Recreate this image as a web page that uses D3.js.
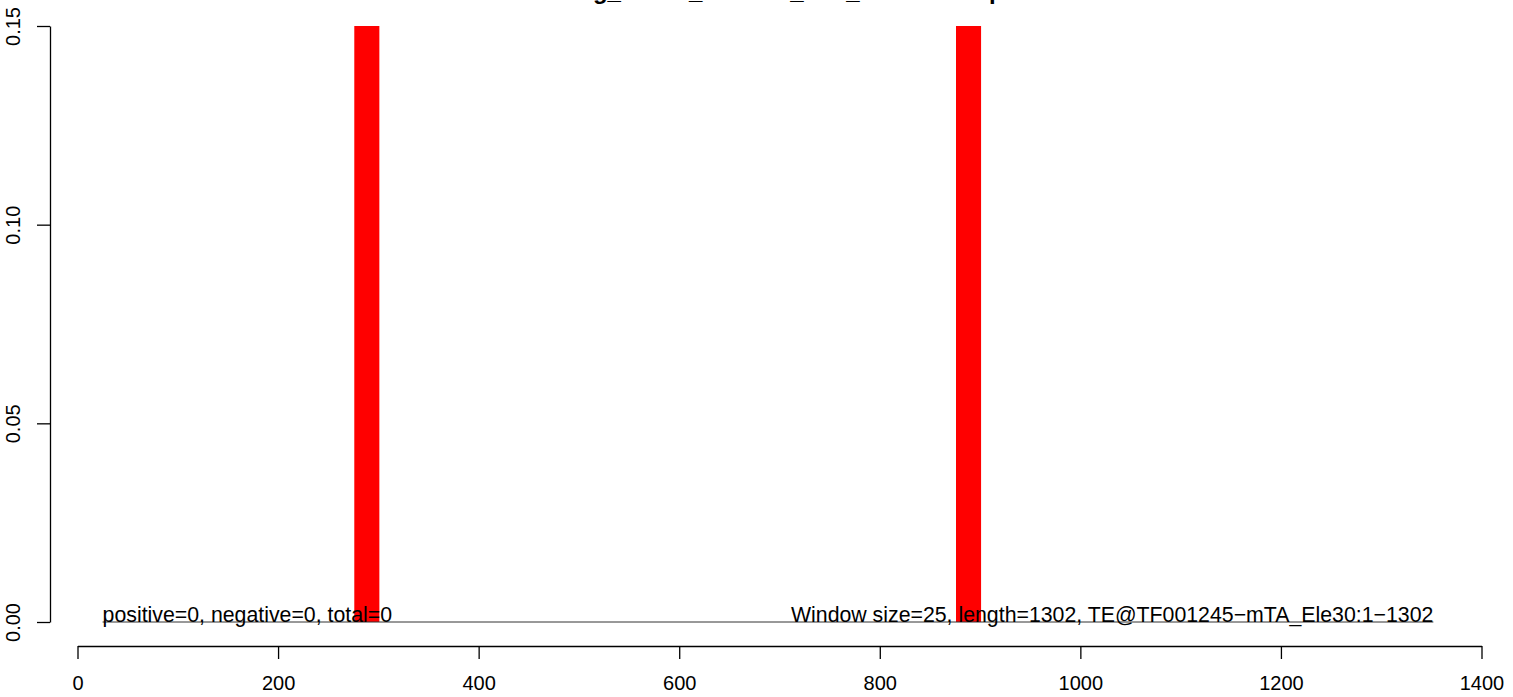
<!DOCTYPE html>
<html>
<head>
<meta charset="utf-8">
<script src="https://cdn.jsdelivr.net/npm/d3@7"></script>
<style>
  html, body { margin: 0; padding: 0; background: #fff; }
  svg { display: block; font-family: "Liberation Sans", Arial, Helvetica, sans-serif; }
</style>
</head>
<body>
<svg id="chart" width="1513" height="697"></svg>
<script>
// ---- data ----
const titleText = "Ring_sense_random_one_window map";
const windowSize = 25;
const barStarts = [276, 876];          // window start positions
const barValues = [0.15, 0.15];        // heights (clipped at top of plot)
const baselineRange = [25, 1352];      // horizontal zero line extent
const xTicks = [0, 200, 400, 600, 800, 1000, 1200, 1400];
const yTicks = [0, 0.05, 0.10, 0.15];
const yTickLabels = ["0.00", "0.05", "0.10", "0.15"];
const leftNote = "positive=0, negative=0, total=0";
const rightNote = "Window size=25, length=1302, TE@TF001245\u2212mTA_Ele30:1\u22121302";
const noteLeftX = 25;
const noteRightX = 1352;

// ---- layout ----
const svg = d3.select("#chart");
const x = d3.scaleLinear().domain([0, 1400]).range([77.5, 1481.5]);
const y = d3.scaleLinear().domain([0, 0.15]).range([622, 26]);

svg.append("defs").append("clipPath").attr("id", "plotclip")
  .append("rect").attr("x", 0).attr("y", y(0.15)).attr("width", 1513).attr("height", y(0) - y(0.15));

// title (clipped by page top, as in the reference)
svg.append("text")
  .attr("x", 779).attr("y", -1)
  .attr("text-anchor", "middle")
  .attr("font-weight", "bold").attr("font-size", 24)
  .text(titleText);

// bars
svg.append("g").attr("clip-path", "url(#plotclip)")
  .selectAll("rect").data(barStarts).join("rect")
  .attr("x", d => x(d))
  .attr("width", d => x(d + windowSize) - x(d))
  .attr("y", (d, i) => y(barValues[i]))
  .attr("height", (d, i) => y(0) - y(barValues[i]))
  .attr("fill", "#ff0000");

// zero line
svg.append("line")
  .attr("x1", x(baselineRange[0])).attr("x2", x(baselineRange[1]))
  .attr("y1", y(0)).attr("y2", y(0))
  .attr("stroke", "#333").attr("stroke-width", 1);

// notes
svg.append("text").attr("x", x(noteLeftX)).attr("y", y(0))
  .attr("font-size", 21.3).attr("text-anchor", "start").text(leftNote);
svg.append("text").attr("x", x(noteRightX)).attr("y", y(0))
  .attr("font-size", 21.3).attr("text-anchor", "end").text(rightNote);

// x axis
const xAxis = d3.axisBottom(x).tickValues(xTicks).tickSize(13).tickSizeOuter(0).tickPadding(17).tickFormat(d3.format("d"));
const gx = svg.append("g").attr("transform", "translate(0,646)").call(xAxis);
gx.select(".domain").attr("stroke", "#000").attr("stroke-width", 1.3);
gx.selectAll(".tick line").attr("stroke", "#000").attr("stroke-width", 1.3);
gx.selectAll(".tick text").attr("font-size", 20).attr("font-family", "Liberation Sans, Arial, sans-serif").attr("fill", "#000");

// y axis
const yAxis = d3.axisLeft(y).tickValues(yTicks).tickSize(13).tickSizeOuter(0)
  .tickFormat((d, i) => yTickLabels[i]);
const gy = svg.append("g").attr("transform", "translate(50,0)").call(yAxis);
gy.select(".domain").attr("stroke", "#000").attr("stroke-width", 1.3);
gy.selectAll(".tick line").attr("stroke", "#000").attr("stroke-width", 1.3);
gy.selectAll(".tick text")
  .attr("font-size", 20).attr("font-family", "Liberation Sans, Arial, sans-serif").attr("fill", "#000")
  .attr("x", null).attr("dy", null)
  .attr("text-anchor", "middle")
  .attr("transform", "translate(-30,0) rotate(-90)");
</script>
</body>
</html>
